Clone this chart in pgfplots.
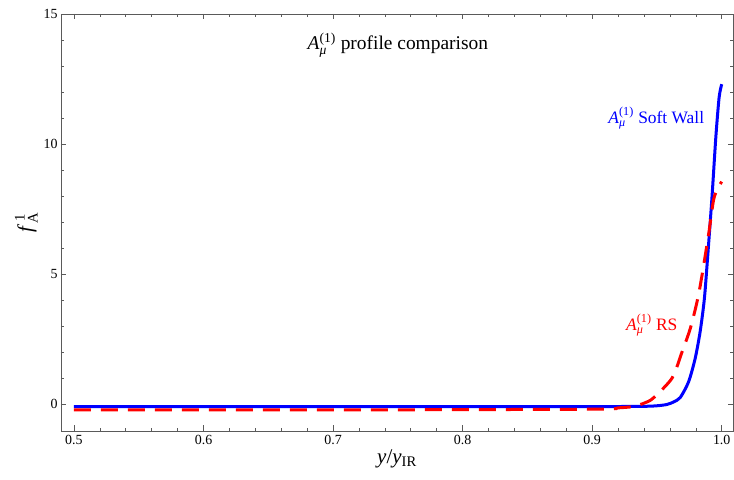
\documentclass[border=0pt]{standalone}
\usepackage{fontspec}
\setmainfont{Liberation Serif}
\usepackage{amsmath}
\usepackage{pgfplots}
\pgfplotsset{compat=1.18}

\definecolor{mblue}{RGB}{0,0,255}
\definecolor{mred}{RGB}{255,0,0}
\definecolor{frame}{RGB}{90,90,90}

\newcommand{\Amu}{\textit{A}$^{\text{(1)}}_{\text{\textit{μ}}}$}

\begin{document}
\begin{tikzpicture}
\begin{axis}[
    scale only axis,
    width=672bp, height=417bp,
    xmin=0.49, xmax=1.0087,
    ymin=-1.04, ymax=15,
    xtick={0.5,0.6,0.7,0.8,0.9,1.0},
    xticklabels={0.5,0.6,0.7,0.8,0.9,1.0},
    ytick={0,5,10,15},
    minor x tick num=4,
    minor y tick num=4,
    tick align=inside,
    major tick length=5.5bp,
    minor tick length=3bp,
    axis line style={frame, line width=0.8bp},
    every tick/.style={frame, line width=0.6bp},
    tick label style={font=\fontsize{14}{16}\selectfont},
    /pgf/number format/assume math mode=true,
    xticklabel style={yshift=-1bp},
    xlabel={\fontsize{21}{23}\selectfont \textit{y}/\textit{y}$_{\text{IR}}$},
    ylabel={\fontsize{21}{23}\selectfont \textit{f}$^{\,\text{1}}_{\text{A}}$},
    xlabel style={yshift=2bp},
    ylabel style={yshift=-1bp},
    clip=false,
]
\addplot[mblue, line width=3bp, smooth, tension=0.45] coordinates {
(0.5,-0.1) (0.7,-0.1) (0.9,-0.1) (0.94,-0.09) (0.95,-0.07) (0.9577,-0.02)
(0.963,0.08) (0.968,0.25) (0.9744,0.85) (0.9795,1.75) (0.9834,2.8)
(0.9865,4.0) (0.9886,5.3) (0.9924,7.9) (0.9955,10.3) (0.998,11.8) (1.0,12.3)
};
\addplot[mred, line width=3bp, dash pattern=on 17bp off 10bp, smooth, tension=0.45] coordinates {
(0.5,-0.23) (0.7,-0.23) (0.9,-0.2) (0.92,-0.15) (0.9317,-0.1) (0.94,0.03)
(0.947,0.22) (0.9616,0.99) (0.969,1.95) (0.976,2.95) (0.9825,4.3)
(0.9898,6.5) (0.9937,7.85) (0.997,8.3) (1.0,8.55)
};
\node[font=\fontsize{19.5}{21}\selectfont] at (axis cs:0.75,13.8) {\Amu\ profile comparison};
\node[font=\fontsize{17.5}{19}\selectfont, text=mblue] at (axis cs:0.9495,11.0) {\Amu\ Soft Wall};
\node[font=\fontsize{17.5}{19}\selectfont, text=mred] at (axis cs:0.946,3.05) {\Amu\ RS};
\end{axis}
\pgfresetboundingbox
\path (current axis.south west) ++(-61bp,-49bp) coordinate (bl);
\path (current axis.north east) ++(1bp,14bp) coordinate (tr);
\path[use as bounding box] (bl) rectangle (tr);
\end{tikzpicture}
\end{document}
